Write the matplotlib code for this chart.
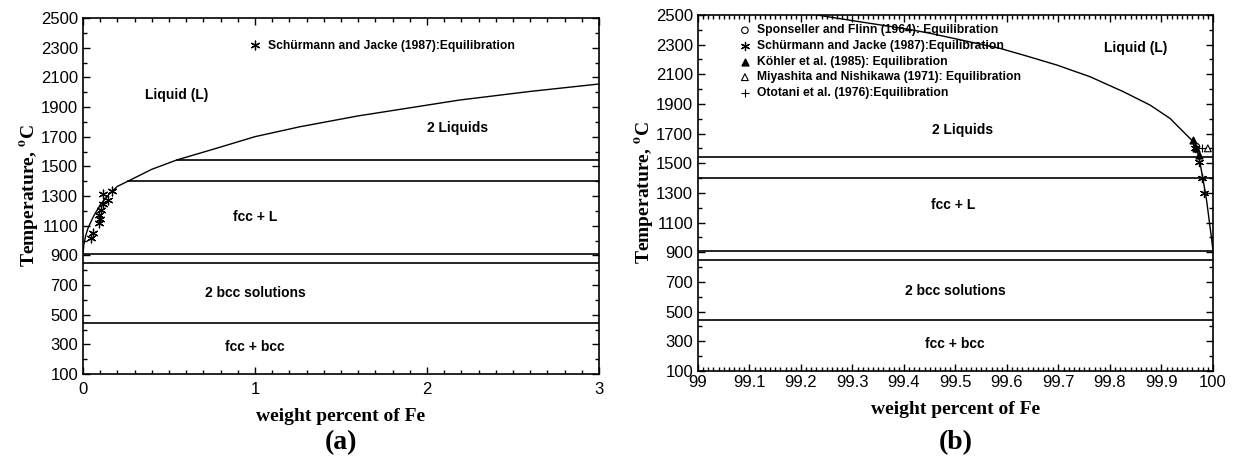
import numpy as np
import matplotlib
matplotlib.use('Agg')
import matplotlib.pyplot as plt
from matplotlib.ticker import MultipleLocator, FormatStrFormatter

plt.rcParams['font.family'] = 'Liberation Sans'
plt.rcParams['mathtext.fontset'] = 'stix'

# ---- data: panel (a), 0-3 wt% Fe ----
liq_a_x = [0, 0.005, 0.015, 0.03, 0.06, 0.1, 0.15, 0.2, 0.262, 0.4, 0.546, 0.8, 1.0,
           1.262, 1.6, 2.19, 2.6, 3.0]
liq_a_T = [902, 970, 1030, 1085, 1160, 1240, 1310, 1365, 1400, 1480, 1543, 1630, 1700,
           1767, 1840, 1947, 2005, 2055]
# horizontal invariants: (T, x start) for panel a
inv_T = [1540, 1400, 912, 845, 445]
inv_a_start = [0.546, 0.262, 0, 0, 0]

schur_a_x = [0.170, 0.114, 0.147, 0.114, 0.103, 0.095, 0.099, 0.095, 0.056, 0.045]
schur_a_T = [1336, 1313, 1273, 1244, 1205, 1172, 1143, 1116, 1052, 1019]

labels_a = ['Liquid (L)', '2 Liquids', 'fcc + L', '2 bcc solutions', 'fcc + bcc']
labels_a_x = [0.546, 2.18, 1.0, 1.0, 1.0]
labels_a_T = [1981, 1758, 1160, 646, 282]

# ---- data: panel (b), 99-100 wt% Fe ----
liq_b_x = [99.231, 99.30, 99.41, 99.45, 99.5864, 99.6317, 99.6965, 99.7612, 99.8259,
           99.8777, 99.9165, 99.9424, 99.9586, 99.972, 99.981, 99.988, 99.993, 99.997, 100.0]
liq_b_T = [2500, 2462, 2403, 2377, 2275, 2230, 2163, 2084, 1983,
           1893, 1803, 1713, 1657, 1556, 1387, 1241, 1106, 1000, 912]

spon_x = [99.968]
spon_T = [1612]
schur_b_x = [99.966, 99.972, 99.978, 99.983]
schur_b_T = [1605, 1507, 1403, 1302]
kohler_x = [99.962, 99.972, 99.968]
kohler_T = [1657, 1556, 1600]
miya_x = [99.990]
miya_T = [1601]
oto_x = [99.978]
oto_T = [1601]

labels_b = ['Liquid (L)', '2 Liquids', 'fcc + L', '2 bcc solutions', 'fcc + bcc']
labels_b_x = [99.849, 99.513, 99.495, 99.499, 99.499]
labels_b_T = [2275, 1725, 1219, 641, 282]

ast = (6, 2, 0)

fig = plt.figure(figsize=(12.4, 4.57), dpi=100)
ax1 = fig.add_axes([0.0669, 0.1816, 0.4161, 0.779])
ax2 = fig.add_axes([0.5629, 0.1882, 0.4153, 0.779])

serif = 'Liberation Serif'

def style(ax, xmaj, xmin, xpad):
    ax.set_ylim(100, 2500)
    ax.yaxis.set_major_locator(MultipleLocator(200, offset=100))
    ax.yaxis.set_minor_locator(MultipleLocator(100))
    ax.xaxis.set_major_locator(MultipleLocator(xmaj))
    ax.xaxis.set_minor_locator(MultipleLocator(xmin))
    ax.tick_params(which='both', direction='in', top=True, right=True, labelsize=12,
                   width=1.0, pad=3.5)
    ax.tick_params(axis='x', which='major', pad=xpad)
    ax.tick_params(which='major', length=5)
    ax.tick_params(which='minor', length=3)
    for s in ax.spines.values():
        s.set_linewidth(1.2)
    ax.set_ylabel('Temperature, $^{\\mathbf{o}}$C', family=serif, fontweight='bold',
                  fontsize=14, labelpad=0)
    ax.set_xlabel('weight percent of Fe', family=serif, fontweight='bold', fontsize=14,
                  labelpad=8)

# panel (a)
ax1.set_xlim(0, 3)
style(ax1, 1, 0.1, 6)
ax1.plot(liq_a_x, liq_a_T, color='black', lw=1.0)
for T, x0 in zip(inv_T, inv_a_start):
    ax1.plot([x0, 3], [T, T], color='black', lw=1.2)
ax1.scatter(schur_a_x, schur_a_T, marker=ast, s=40, color='black', lw=0.9,
            label='Schürmann and Jacke (1987):Equilibration')
for t, x, T in zip(labels_a, labels_a_x, labels_a_T):
    ax1.text(x, T, t, ha='center', va='center', fontsize=10, fontweight='bold')
ax1.legend(loc='upper left', bbox_to_anchor=(0.312, 0.953), frameon=False,
           prop={'size': 8.7, 'weight': 'bold'}, handletextpad=0.6, borderaxespad=0,
           handlelength=1.0, scatterpoints=1)
ax1.text(0.5, -0.194, '(a)', transform=ax1.transAxes, ha='center', va='center',
         family=serif, fontweight='bold', fontsize=20)

# panel (b)
ax2.set_xlim(99, 100)
style(ax2, 0.1, 0.01, 3)
ax2.xaxis.set_major_formatter(FormatStrFormatter('%g'))
ax2.plot(liq_b_x, liq_b_T, color='black', lw=1.0)
for T in inv_T:
    ax2.plot([99, 100], [T, T], color='black', lw=1.2)
ax2.scatter(spon_x, spon_T, marker='o', s=22, facecolor='none', edgecolor='black', lw=0.8,
            label='Sponseller and Flinn (1964): Equilibration', zorder=3)
ax2.scatter(schur_b_x, schur_b_T, marker=ast, s=35, color='black', lw=0.9,
            label='Schürmann and Jacke (1987):Equilibration', zorder=3)
ax2.scatter(kohler_x, kohler_T, marker='^', s=24, color='black',
            label='Köhler et al. (1985): Equilibration', zorder=3)
ax2.scatter(miya_x, miya_T, marker='^', s=24, facecolor='none', edgecolor='black', lw=0.8,
            label='Miyashita and Nishikawa (1971): Equilibration', zorder=3)
ax2.scatter(oto_x, oto_T, marker='+', s=30, color='black', lw=0.8,
            label='Ototani et al. (1976):Equilibration', zorder=3)
for t, x, T in zip(labels_b, labels_b_x, labels_b_T):
    ax2.text(x, T, t, ha='center', va='center', fontsize=10, fontweight='bold')
ax2.legend(loc='upper left', bbox_to_anchor=(0.07, 0.987), frameon=False,
           prop={'size': 8.7, 'weight': 'bold'}, handletextpad=0.5, borderaxespad=0,
           handlelength=1.0, labelspacing=0.3, scatterpoints=1)
ax2.text(0.5, -0.2, '(b)', transform=ax2.transAxes, ha='center', va='center',
         family=serif, fontweight='bold', fontsize=20)

fig.savefig('out.png', dpi=100)
